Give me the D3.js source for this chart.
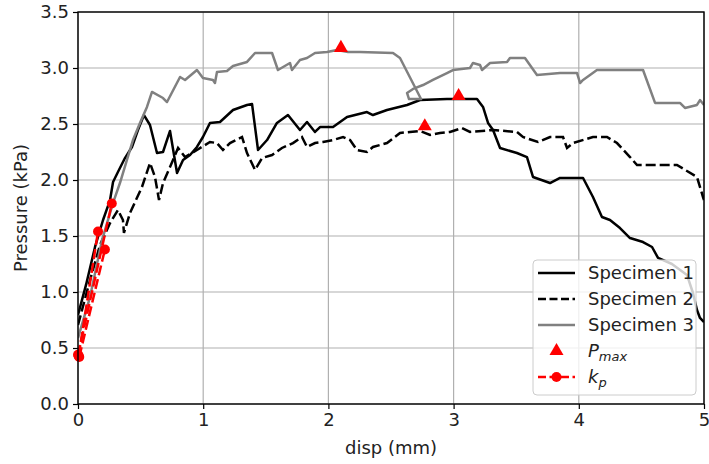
<!DOCTYPE html>
<html>
<head>
<meta charset="utf-8">
<script src="https://cdn.jsdelivr.net/npm/d3@7"></script>
<style>
body { margin: 0; background: #fff; }
text { font-family: "DejaVu Sans", sans-serif; }
</style>
</head>
<body>
<script>
// displacement (mm), pressure (kPa)
var spec1 = [[0,0.795],[0.064,1.063],[0.136,1.402],[0.200,1.643],[0.256,1.821],[0.280,1.982],[0.319,2.071],[0.375,2.196],[0.431,2.295],[0.479,2.446],[0.527,2.580],[0.575,2.491],[0.631,2.241],[0.679,2.250],[0.735,2.438],[0.791,2.063],[0.839,2.179],[0.895,2.223],[0.950,2.295],[0.998,2.384],[1.054,2.509],[1.134,2.518],[1.238,2.625],[1.350,2.670],[1.390,2.679],[1.438,2.268],[1.510,2.357],[1.589,2.509],[1.677,2.580],[1.773,2.446],[1.829,2.518],[1.893,2.429],[1.933,2.473],[2.037,2.473],[2.149,2.563],[2.308,2.607],[2.356,2.580],[2.468,2.625],[2.628,2.670],[2.732,2.714],[2.947,2.723],[3.187,2.723],[3.235,2.652],[3.275,2.509],[3.315,2.446],[3.371,2.286],[3.506,2.241],[3.586,2.205],[3.634,2.027],[3.770,1.973],[3.850,2.018],[4.034,2.018],[4.113,1.848],[4.185,1.670],[4.249,1.643],[4.329,1.571],[4.409,1.482],[4.513,1.446],[4.585,1.402],[4.633,1.304],[4.744,1.250],[4.864,1.152],[4.912,0.991],[4.944,0.839],[4.968,0.768],[5.0,0.732]];
var spec2 = [[0,0.705],[0.096,1.107],[0.176,1.420],[0.256,1.616],[0.319,1.732],[0.359,1.643],[0.367,1.527],[0.415,1.705],[0.511,1.938],[0.575,2.152],[0.615,2.027],[0.647,1.821],[0.679,1.973],[0.735,2.116],[0.799,2.286],[0.855,2.205],[0.950,2.268],[1.054,2.339],[1.110,2.330],[1.158,2.268],[1.214,2.330],[1.310,2.384],[1.350,2.241],[1.414,2.089],[1.470,2.196],[1.550,2.223],[1.629,2.286],[1.717,2.330],[1.789,2.384],[1.829,2.295],[1.893,2.330],[1.957,2.339],[2.037,2.357],[2.117,2.384],[2.173,2.357],[2.228,2.268],[2.308,2.250],[2.356,2.295],[2.468,2.330],[2.572,2.420],[2.652,2.429],[2.732,2.438],[2.812,2.402],[2.891,2.420],[2.971,2.429],[3.067,2.464],[3.131,2.429],[3.315,2.446],[3.506,2.429],[3.554,2.384],[3.674,2.339],[3.770,2.384],[3.874,2.384],[3.906,2.286],[3.954,2.330],[4.113,2.384],[4.225,2.384],[4.305,2.330],[4.409,2.205],[4.465,2.134],[4.784,2.134],[4.944,2.027],[4.992,1.848],[5.0,1.821]];
var spec3 = [[0,0.589],[0.096,0.955],[0.192,1.464],[0.280,1.795],[0.335,1.973],[0.391,2.179],[0.439,2.357],[0.495,2.509],[0.551,2.652],[0.591,2.786],[0.679,2.732],[0.711,2.696],[0.815,2.920],[0.855,2.893],[0.950,2.982],[0.998,2.911],[1.078,2.893],[1.094,2.866],[1.110,2.964],[1.190,2.973],[1.238,3.018],[1.350,3.054],[1.414,3.134],[1.550,3.134],[1.597,2.982],[1.693,3.045],[1.709,2.982],[1.773,3.071],[1.829,3.089],[1.893,3.134],[1.989,3.143],[2.069,3.161],[2.157,3.143],[2.252,3.143],[2.516,3.134],[2.572,3.089],[2.740,2.723],[2.644,2.723],[2.628,2.777],[2.676,2.813],[2.756,2.848],[2.835,2.893],[2.947,2.955],[2.995,2.982],[3.131,3.000],[3.155,3.045],[3.211,3.027],[3.227,2.982],[3.291,3.045],[3.427,3.054],[3.450,3.089],[3.570,3.089],[3.666,2.938],[3.850,2.955],[3.986,2.955],[4.010,2.866],[4.034,2.893],[4.145,2.982],[4.513,2.982],[4.609,2.688],[4.808,2.688],[4.848,2.643],[4.944,2.670],[4.968,2.714],[5.0,2.670]];
var pmax = [[2.10,3.18],[3.04,2.75],[2.77,2.48]];
var kp = [[[0.005,0.43],[0.16,1.54]], [[0.01,0.42],[0.215,1.38]], [[0.0,0.44],[0.27,1.79]]];
var xticks = [0,1,2,3,4,5];
var yticks = [0.0,0.5,1.0,1.5,2.0,2.5,3.0,3.5];
var legendNames = ['Specimen 1','Specimen 2','Specimen 3'];

var width = 709, height = 464;
var mLeft = 78, mRight = 704, mTop = 12, mBottom = 404;
var fs = 18, lw = 2.5, dash = '10,4';

var svg = d3.select('body').append('svg').attr('width', width).attr('height', height);

var x = d3.scaleLinear().domain([0,5]).range([mLeft,mRight]);
var y = d3.scaleLinear().domain([0,3.5]).range([mBottom,mTop]);

// grid
svg.append('g').selectAll('line').data(xticks).enter().append('line')
	.attr('x1', d => x(d)).attr('x2', d => x(d)).attr('y1', mTop).attr('y2', mBottom)
	.attr('stroke', '#b0b0b0').attr('stroke-width', 1.2);
svg.append('g').selectAll('line').data(yticks).enter().append('line')
	.attr('y1', d => y(d)).attr('y2', d => y(d)).attr('x1', mLeft).attr('x2', mRight)
	.attr('stroke', '#b0b0b0').attr('stroke-width', 1.2);

svg.append('clipPath').attr('id', 'clip').append('rect')
	.attr('x', mLeft).attr('y', mTop).attr('width', mRight-mLeft).attr('height', mBottom-mTop);

var plot = svg.append('g').attr('clip-path', 'url(#clip)');
var line = d3.line().x(d => x(d[0])).y(d => y(d[1]));

plot.append('path').datum(spec1).attr('d', line).attr('fill', 'none')
	.attr('stroke', 'black').attr('stroke-width', lw).attr('stroke-linejoin', 'round');
plot.append('path').datum(spec2).attr('d', line).attr('fill', 'none')
	.attr('stroke', 'black').attr('stroke-width', lw).attr('stroke-dasharray', dash);
plot.append('path').datum(spec3).attr('d', line).attr('fill', 'none')
	.attr('stroke', 'gray').attr('stroke-width', lw).attr('stroke-linejoin', 'round');

var tri = d3.symbol().type(d3.symbolTriangle).size(85);
svg.append('g').selectAll('path').data(pmax).enter().append('path')
	.attr('d', tri).attr('transform', d => 'translate(' + x(d[0]) + ',' + y(d[1]) + ')')
	.attr('fill', 'red');

kp.forEach(function(seg){
	svg.append('path').datum(seg).attr('d', line).attr('fill', 'none')
		.attr('stroke', 'red').attr('stroke-width', lw).attr('stroke-dasharray', dash);
	svg.append('g').selectAll('circle').data(seg).enter().append('circle')
		.attr('cx', d => x(d[0])).attr('cy', d => y(d[1])).attr('r', 5).attr('fill', 'red');
});

// axes
var xAxis = svg.append('g').attr('transform', 'translate(0,' + mBottom + ')')
	.call(d3.axisBottom(x).tickValues(xticks).tickFormat(d3.format('d')).tickSize(5).tickPadding(4));
var yAxis = svg.append('g').attr('transform', 'translate(' + mLeft + ',0)')
	.call(d3.axisLeft(y).tickValues(yticks).tickFormat(d3.format('.1f')).tickSize(5).tickPadding(4));
[xAxis, yAxis].forEach(function(a){
	a.select('.domain').remove();
	a.selectAll('line').attr('stroke', 'black').attr('stroke-width', 1.2);
	a.selectAll('text').attr('font-size', fs).attr('fill', '#222').style('font-family', 'DejaVu Sans');
});
svg.append('rect').attr('x', mLeft).attr('y', mTop).attr('width', mRight-mLeft).attr('height', mBottom-mTop)
	.attr('fill', 'none').attr('stroke', 'black').attr('stroke-width', 1.4);

svg.append('text').text('disp (mm)').attr('x', (mLeft+mRight)/2).attr('y', 454)
	.attr('text-anchor', 'middle').attr('font-size', fs).attr('fill', '#222');
svg.append('text').text('Pressure (kPa)').attr('transform', 'translate(27,' + (mTop+mBottom)/2 + ') rotate(-90)')
	.attr('text-anchor', 'middle').attr('font-size', fs).attr('fill', '#222');

// legend
var lg = svg.append('g');
lg.append('rect').attr('x', 533).attr('y', 260).attr('width', 163).attr('height', 135).attr('rx', 4)
	.attr('fill', 'white').attr('fill-opacity', 0.8).attr('stroke', '#cccccc');
var rows = [273, 299, 325, 351, 377];
var styles = [{c:'black', d:null}, {c:'black', d:'8,3.5'}, {c:'gray', d:null}];
legendNames.forEach(function(n, i){
	lg.append('line').attr('x1', 538).attr('x2', 575).attr('y1', rows[i]).attr('y2', rows[i])
		.attr('stroke', styles[i].c).attr('stroke-width', lw).attr('stroke-dasharray', styles[i].d);
	lg.append('text').text(n).attr('x', 588).attr('y', rows[i]+6).attr('font-size', fs).attr('fill', '#222');
});
lg.append('path').attr('d', tri).attr('transform', 'translate(556.5,' + rows[3] + ')').attr('fill', 'red');
lg.append('line').attr('x1', 538).attr('x2', 575).attr('y1', rows[4]).attr('y2', rows[4])
	.attr('stroke', 'red').attr('stroke-width', lw).attr('stroke-dasharray', '8,3.5');
lg.append('circle').attr('cx', 556.5).attr('cy', rows[4]).attr('r', 5).attr('fill', 'red');

var t1 = lg.append('text').attr('x', 588).attr('y', rows[3]+6).attr('font-size', fs).attr('fill', '#222').attr('font-style', 'italic');
t1.append('tspan').text('P');
t1.append('tspan').text('max').attr('font-size', 13).attr('dy', 4);
var t2 = lg.append('text').attr('x', 588).attr('y', rows[4]+6).attr('font-size', fs).attr('fill', '#222').attr('font-style', 'italic');
t2.append('tspan').text('k');
t2.append('tspan').text('p').attr('font-size', 13).attr('dy', 4);
</script>
</body>
</html>
